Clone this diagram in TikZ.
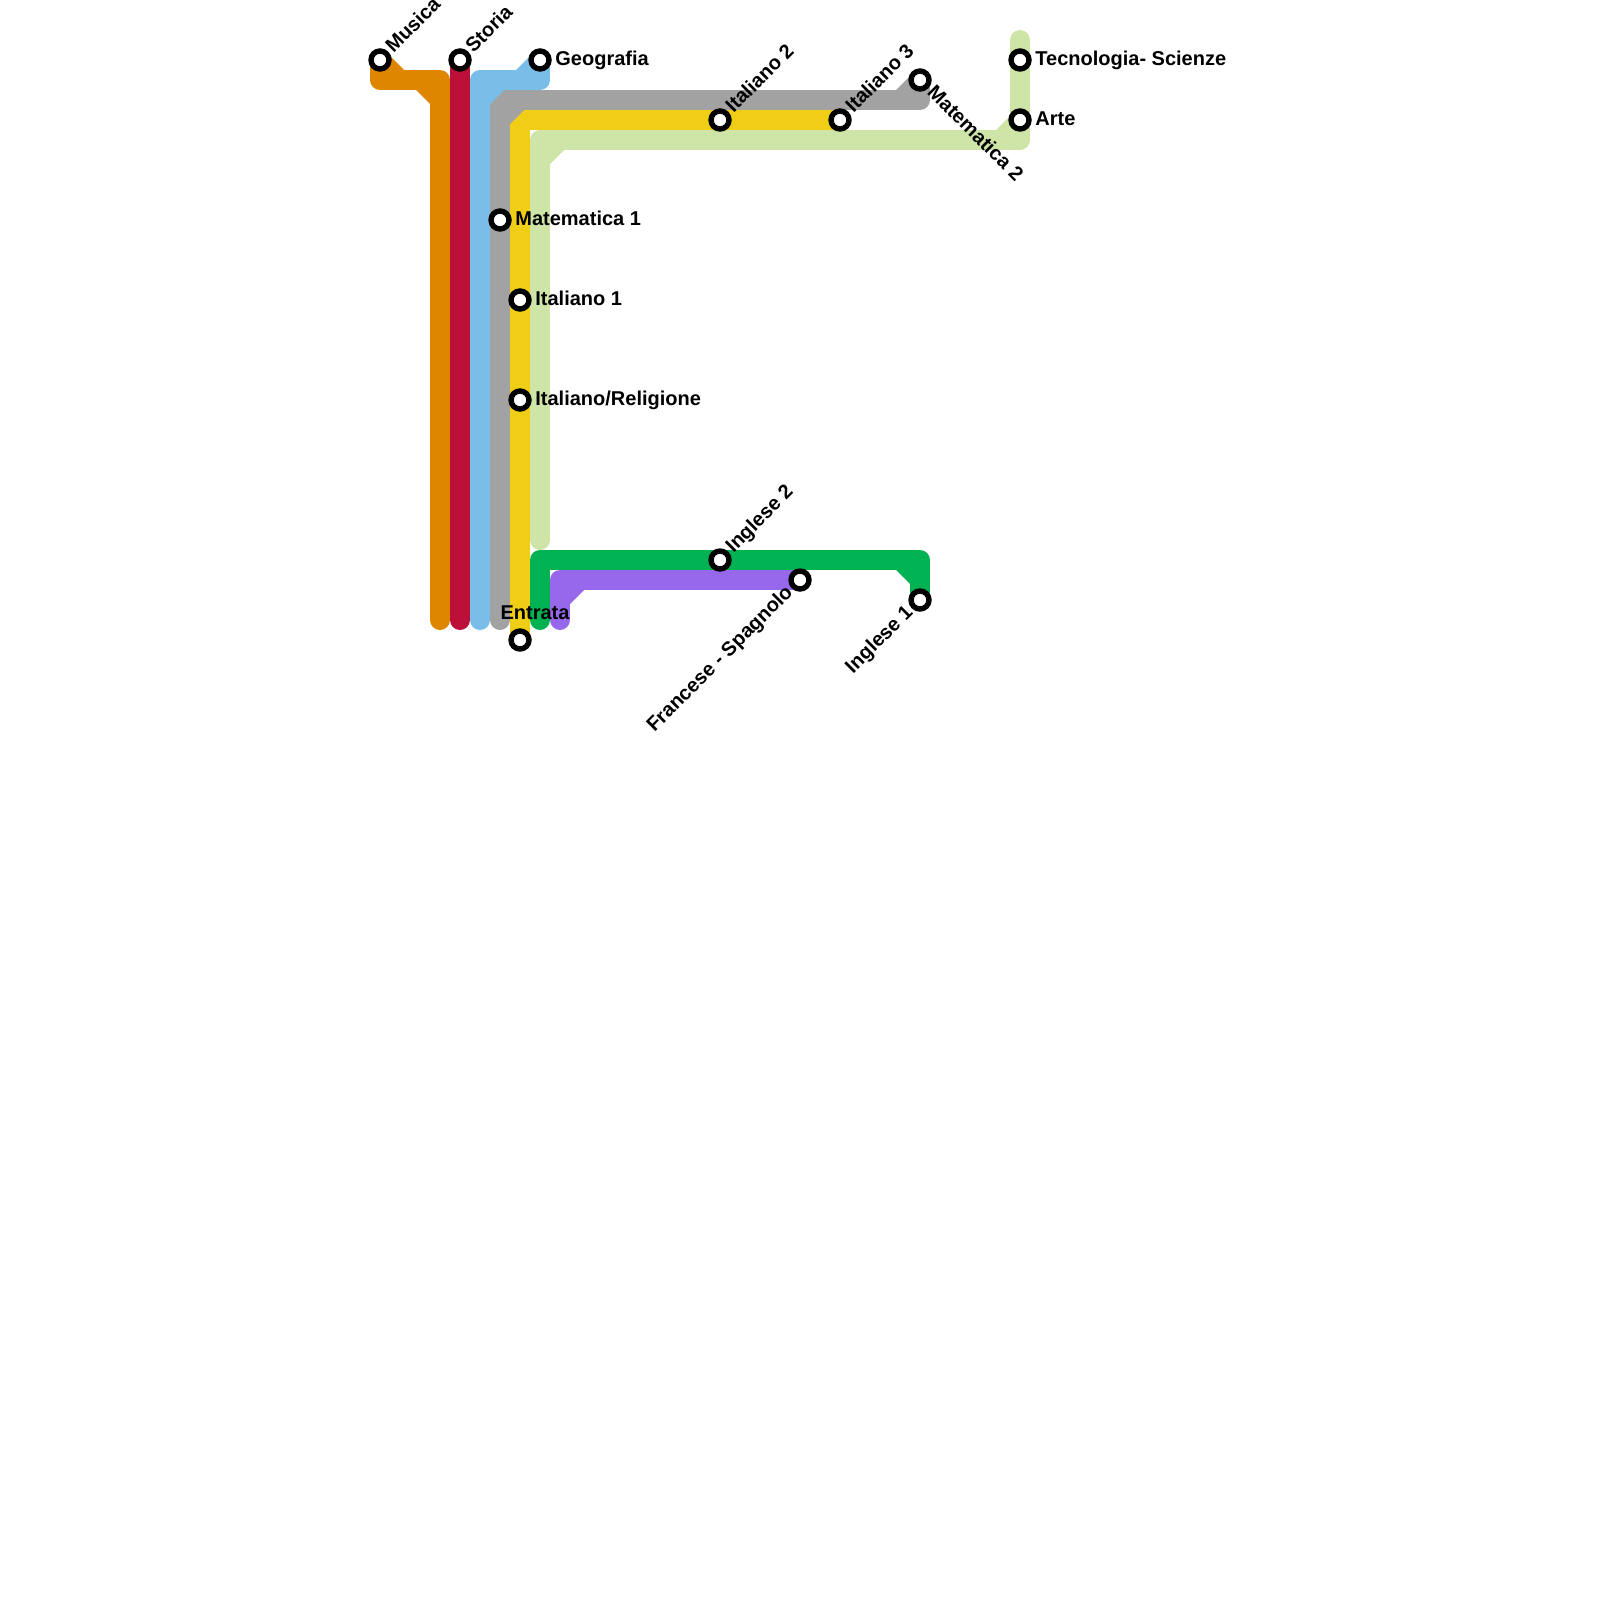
\documentclass[tikz,border=0pt]{standalone}
\usepackage{xcolor}
\usepackage{fontspec}
\setmainfont{Liberation Sans}
\usetikzlibrary{positioning, backgrounds}

\definecolor{lnorange}{HTML}{DF8600}
\definecolor{lnred}{HTML}{BD1038}
\definecolor{lnblue}{HTML}{79BDE9}
\definecolor{lngray}{HTML}{A2A2A2}
\definecolor{lnyellow}{HTML}{F0CE15}
\definecolor{lnlime}{HTML}{CFE4A7}
\definecolor{lngreen}{HTML}{00B251}
\definecolor{lnpurple}{HTML}{9768EC}

\tikzset{
  stn/.style={circle, draw=black, fill=white, line width=2.7pt, minimum size=9pt, inner sep=0pt, on grid},
  lbl/.style={inner sep=0pt, text height=7.2pt, text depth=2.1pt, font=\fontsize{10}{12}\selectfont\bfseries},
  rotlbl/.style={lbl, inner xsep=1pt},
  tract/.style={line width=10pt, line cap=round, line join=round},
}

\begin{document}
\begin{tikzpicture}[x=0.5pt, y=-0.5pt]
        \useasboundingbox (0,0) rectangle (1600,1600);

        \node[stn] (musica) at (380,60) {};
        \node[stn] (storia) [right=40pt of musica] {};
        \node[stn] (geografia) [right=40pt of storia] {};
        \node[stn] (mate1) at (500,220) {};
        \node[stn] (ita1) at (520,300) {};
        \node[stn] (itarel) [below=50pt of ita1] {};
        \node[stn] (entrata) at (520,640) {};
        \node[stn] (ita2) at (720,120) {};
        \node[stn] (ita3) [right=60pt of ita2] {};
        \node[stn] (mate2) at (920,80) {};
        \node[stn] (tecno) at (1020,60) {};
        \node[stn] (arte) [below=30pt of tecno] {};
        \node[stn] (ing2) at (720,560) {};
        \node[stn] (franc) at (800,580) {};
        \node[stn] (ing1) at (920,600) {};

        \node[lbl] (geografiaL) [right=1.65pt of geografia] {Geografia};
        \node[lbl] (mate1L) [right=1.65pt of mate1] {Matematica 1};
        \node[lbl] (ita1L) [right=1.65pt of ita1] {Italiano 1};
        \node[lbl] (itarelL) [right=1.65pt of itarel] {Italiano/Religione};
        \node[lbl] (tecnoL) [right=1.65pt of tecno] {Tecnologia- Scienze};
        \node[lbl] (arteL) [right=1.65pt of arte] {Arte};
        \node[lbl] (entrataL) [above=2.2pt of entrata, xshift=7.5pt] {Entrata};

        \node[rotlbl, rotate=45, anchor=west] (musicaL) at (musica.45) {Musica};
        \node[rotlbl, rotate=45, anchor=west] (storiaL) at (storia.45) {Storia};
        \node[rotlbl, rotate=45, anchor=west] (ita2L) at (ita2.45) {Italiano 2};
        \node[rotlbl, rotate=45, anchor=west] (ita3L) at (ita3.45) {Italiano 3};
        \node[rotlbl, rotate=45, anchor=west] (ing2L) at (ing2.45) {Inglese 2};
        \node[rotlbl, rotate=-45, anchor=west] (mate2L) at (mate2.-45) {Matematica 2};
        \node[rotlbl, rotate=45, anchor=east] (francL) at (franc.225) {Francese - Spagnolo};
        \node[rotlbl, rotate=45, anchor=east] (ing1L) at (ing1.225) {Inglese 1};

        \coordinate (orangeA) at (380,80);
        \coordinate (orangeB) at (440,80);
        \coordinate (orangeC) at (440,620);
        \coordinate (redC) at (460,620);
        \coordinate (blueA) at (540,80);
        \coordinate (blueB) at (480,80);
        \coordinate (blueC) at (480,620);
        \coordinate (grayA) at (920,100);
        \coordinate (grayB) at (500,100);
        \coordinate (grayC) at (500,620);
        \coordinate (yellowB) at (520,120);
        \coordinate (limeT) at (1020,40);
        \coordinate (limeA) at (1020,140);
        \coordinate (limeB) at (540,140);
        \coordinate (limeC) at (540,540);
        \coordinate (greenA) at (920,560);
        \coordinate (greenB) at (540,560);
        \coordinate (greenC) at (540,620);
        \coordinate (purpleB) at (560,580);
        \coordinate (purpleC) at (560,620);

        \begin{scope}[on background layer]
        \draw[tract, lnlime] (limeT) -- (limeA) -- (limeB) -- (limeC);
        \draw[tract, lnyellow] (entrata.center) -- (yellowB) -- (ita3.center);
        \draw[tract, lngray] (mate2.center) -- (grayA) -- (grayB) -- (grayC);
        \draw[tract, lnorange] (musica.center) -- (orangeA) -- (orangeB) -- (orangeC);
        \draw[tract, lnred] (storia.center) -- (redC);
        \draw[tract, lnblue] (geografia.center) -- (blueA) -- (blueB) -- (blueC);
        \draw[tract, lngreen] (ing1.center) -- (greenA) -- (greenB) -- (greenC);
        \draw[tract, lnpurple] (franc.center) -- (purpleB) -- (purpleC);

        % inner corners
        \fill[lnorange] (390,70) -- (404,70) -- (390,56) -- cycle;
        \fill[lnorange] (430,90) -- (416,90) -- (430,104) -- cycle;
        \fill[lnblue] (530,70) -- (516,70) -- (530,56) -- cycle;
        \fill[lnblue] (490,90) -- (504,90) -- (490,104) -- cycle;
        \fill[lngray] (510,110) -- (524,110) -- (510,124) -- cycle;
        \fill[lngray] (910,90) -- (896,90) -- (910,76) -- cycle;
        \fill[lnlime] (550,150) -- (564,150) -- (550,164) -- cycle;
        \fill[lnlime] (1010,130) -- (996,130) -- (1010,116) -- cycle;
        \fill[lngreen] (910,570) -- (896,570) -- (910,584) -- cycle;
        \fill[lnpurple] (570,590) -- (584,590) -- (570,604) -- cycle;
        \end{scope}
\end{tikzpicture}
\end{document}
